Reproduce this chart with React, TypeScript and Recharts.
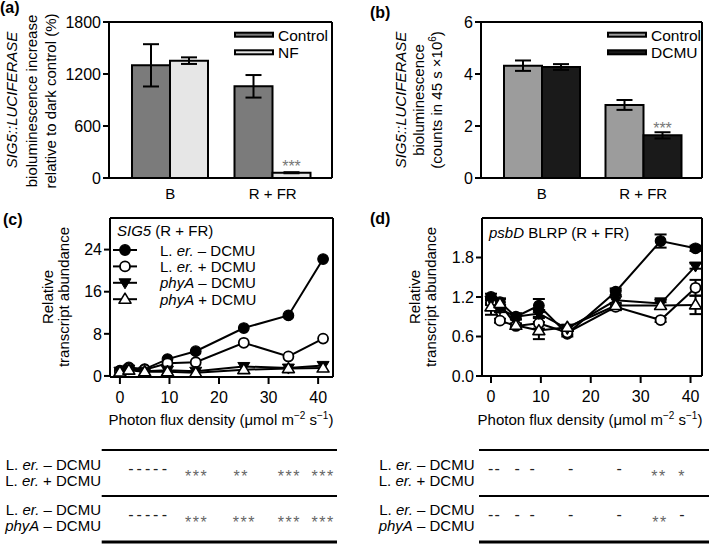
import React from 'react';
import {
  BarChart, Bar, XAxis, YAxis, ErrorBar, LabelList, Legend,
  LineChart, Line, ScatterChart, Scatter, ReferenceLine,
} from 'recharts';

const FONT = '"Liberation Sans", Arial, Helvetica, sans-serif';

// ---------- Panel (a) ----------
const catsA = ['B', 'R + FR'];
const controlA = [1300, 1058];
const controlAErr = [244, 130];
const nfA = [1354, 61];
const nfAErr = [38, 6];
const sigA = ['', '***'];
const seriesA = ['Control', 'NF'];
const colorsA = ['#7b7b7b', '#e6e6e6'];

// ---------- Panel (b) ----------
const catsB = ['B', 'R + FR'];
const controlB = [4.32, 2.81];
const controlBErr = [0.2, 0.19];
const dcmuB = [4.27, 1.64];
const dcmuBErr = [0.11, 0.12];
const sigB = ['', '***'];
const seriesB = ['Control', 'DCMU'];
const colorsB = ['#9c9c9c', '#1a1a1a'];

// ---------- Panels (c), (d) ----------
const pfd = [0, 1.8, 5, 9.6, 15.3, 25, 34, 41];
const lineNames = ['L. er. – DCMU', 'L. er. + DCMU', 'phyA – DCMU', 'phyA + DCMU'];
const lineKeys = ['lerM', 'lerP', 'phyM', 'phyP'];
const lineMarkers = ['fc', 'oc', 'ft', 'ot'];

const lerMc = [1.0, 1.6, 1.3, 3.2, 4.7, 9.1, 11.5, 22.2];
const lerPc = [0.9, 1.4, 1.2, 2.4, 2.6, 6.3, 3.7, 7.1];
const phyMc = [0.9, 1.3, 0.9, 1.1, 0.9, 1.8, 1.5, 2.0];
const phyPc = [0.75, 1.1, 0.8, 0.8, 0.6, 1.2, 1.4, 1.5];

const lerMd = [1.2, 1.12, 0.9, 1.07, 0.64, 1.28, 2.05, 1.94];
const lerMdErr = [0.05, 0.05, 0.04, 0.1, 0.04, 0.05, 0.1, 0.04];
const lerPd = [1.12, 0.84, 0.76, 0.8, 0.66, 1.05, 0.85, 1.34];
const lerPdErr = [0.04, 0.03, 0.03, 0.08, 0.03, 0.04, 0.03, 0.12];
const phyMd = [1.15, 1.02, 0.9, 0.95, 0.72, 1.15, 1.1, 1.67];
const phyMdErr = [0.04, 0.05, 0.04, 0.05, 0.03, 0.15, 0.08, 0.04];
const phyPd = [1.05, 1.1, 0.77, 0.69, 0.74, 1.07, 1.07, 1.08];
const phyPdErr = [0.12, 0.08, 0.03, 0.13, 0.04, 0.04, 0.05, 0.14];

// significance tables
const tableRowLabels = [['L. er. – DCMU', 'L. er. + DCMU'], ['L. er. – DCMU', 'phyA – DCMU']];
const sigPosC1 = [2.2, 3.9, 5.6, 7.2, 9.0, 15.5, 24.5, 34.2, 41];
const sigTxtC1 = ['-', '-', '-', '-', '-', '***', '**', '***', '***'];
const sigPosC2 = [2.2, 3.9, 5.6, 7.2, 9.0, 15.5, 25.1, 34.2, 41];
const sigTxtC2 = ['-', '-', '-', '-', '-', '***', '***', '***', '***'];
const sigPosD1 = [0, 1.3, 5.3, 8.3, 16, 25.7, 33.7, 38.3];
const sigTxtD1 = ['-', '-', '-', '-', '-', '-', '**', '*'];
const sigPosD2 = [0, 1.3, 5.3, 8.3, 16, 25.7, 33.9, 38.3];
const sigTxtD2 = ['-', '-', '-', '-', '-', '-', '**', '-'];

// ---------- built tables ----------
const dataA = catsA.map((c, i) => ({ cat: c, control: controlA[i], controlErr: controlAErr[i], nf: nfA[i], nfErr: nfAErr[i], sig: sigA[i] }));
const dataB = catsB.map((c, i) => ({ cat: c, control: controlB[i], controlErr: controlBErr[i], dcmu: dcmuB[i], dcmuErr: dcmuBErr[i], sig: sigB[i] }));
const dataC = pfd.map((x, i) => ({ x, lerM: lerMc[i], lerP: lerPc[i], phyM: phyMc[i], phyP: phyPc[i] }));
const dataD = pfd.map((x, i) => ({
  x, lerM: lerMd[i], lerMErr: lerMdErr[i], lerP: lerPd[i], lerPErr: lerPdErr[i],
  phyM: phyMd[i], phyMErr: phyMdErr[i], phyP: phyPd[i], phyPErr: phyPdErr[i],
}));
const mkSig = (pos: number[], txt: string[], row: number) => pos.map((x, i) => ({ x, row, label: txt[i] }));
const sigDataC = [...mkSig(sigPosC1, sigTxtC1, 1), ...mkSig(sigPosC2, sigTxtC2, 2)];
const sigDataD = [...mkSig(sigPosD1, sigTxtD1, 1), ...mkSig(sigPosD2, sigTxtD2, 2)];

const numTick = { fill: '#000', fontSize: 16, fontFamily: FONT };
const catTick = { fill: '#000', fontSize: 15, fontFamily: FONT };
const axisLn = { stroke: '#000', strokeWidth: 2 };
const tickLn = { stroke: '#000', strokeWidth: 2 };

function Rich({ text }: { text: string }) {
  const italics = ['er.', 'phyA', 'SIG5::LUCIFERASE', 'SIG5', 'psbD'];
  const parts: React.ReactNode[] = [];
  let rest = text;
  let k = 0;
  while (rest.length) {
    let best = -1;
    let tok = '';
    for (const t of italics) {
      const i = rest.indexOf(t);
      if (i >= 0 && (best < 0 || i < best || (i === best && t.length > tok.length))) { best = i; tok = t; }
    }
    if (best < 0) { parts.push(<tspan key={k++}>{rest}</tspan>); break; }
    if (best > 0) parts.push(<tspan key={k++}>{rest.slice(0, best)}</tspan>);
    parts.push(<tspan key={k++} fontStyle="italic">{tok}</tspan>);
    rest = rest.slice(best + tok.length);
  }
  return <>{parts}</>;
}

function Marker({ kind, cx, cy }: { kind: string; cx?: number; cy?: number }) {
  if (cx == null || cy == null || isNaN(cx) || isNaN(cy)) return null;
  const r = 5.3;
  if (kind === 'fc') return <circle cx={cx} cy={cy} r={r} fill="#000" stroke="#000" strokeWidth={1.2} />;
  if (kind === 'oc') return <circle cx={cx} cy={cy} r={r - 0.3} fill="#fff" stroke="#000" strokeWidth={1.8} />;
  const s = 6;
  if (kind === 'ft') {
    return <polygon points={`${cx - s},${cy - 4} ${cx + s},${cy - 4} ${cx},${cy + 6}`} fill="#000" stroke="#000" strokeWidth={1} strokeLinejoin="round" />;
  }
  return <polygon points={`${cx - s},${cy + 4} ${cx + s},${cy + 4} ${cx},${cy - 6}`} fill="#fff" stroke="#000" strokeWidth={1.6} strokeLinejoin="round" />;
}

function BarLegend({ names, colors }: { names: string[]; colors: string[] }) {
  return (
    <svg width={104} height={44} style={{ display: 'block', overflow: 'visible' }} fontFamily={FONT}>
      {names.map((n, i) => (
        <g key={n}>
          <rect x={5} y={8.7 + i * 17.6} width={38} height={4} fill={colors[i]} stroke="#000" strokeWidth={2} />
          <text x={48} y={17 + i * 17.2} fontSize={15.5} fill="#000" textAnchor="start">{n}</text>
        </g>
      ))}
    </svg>
  );
}

function LineLegendC() {
  return (
    <svg width={180} height={92} style={{ display: 'block', overflow: 'visible' }} fontFamily={FONT}>
      <text x={12} y={16} fontSize={15} fill="#000"><Rich text="SIG5 (R + FR)" /></text>
      {lineNames.map((n, i) => {
        const cy = 30 + i * 16.4;
        return (
          <g key={n}>
            <line x1={8} x2={32} y1={cy} y2={cy} stroke="#000" strokeWidth={2} />
            <Marker kind={lineMarkers[i]} cx={20} cy={cy} />
            <text x={55} y={cy + 5.5} fontSize={15} fill="#000"><Rich text={n} /></text>
          </g>
        );
      })}
    </svg>
  );
}

const SigShape = (props: any) => {
  const { cx, cy, payload } = props;
  if (cx == null || cy == null) return <g />;
  const star = payload.label.indexOf('*') >= 0;
  return (
    <text x={cx} y={cy + (star ? 8.5 : 1)} textAnchor="middle" fontSize={16} fontFamily={FONT}
      fill={star ? '#666' : '#222'} letterSpacing={star ? 1.5 : 0}>{payload.label}</text>
  );
};

function BarPanel({ data, colors, names, keys, domain, ticks, yWidth, rightM, legendLeft }: any) {
  return (
    <BarChart width={354} height={210} data={data} margin={{ top: 21, right: rightM - 1, bottom: 0, left: 0 }} barGap={0} barSize={38}>
      <XAxis dataKey="cat" height={32} padding={{ left: 10, right: 8 }} tickLine={false} tickSize={0} tickMargin={10} tick={catTick} axisLine={axisLn} />
      <XAxis xAxisId="top" orientation="top" dataKey="cat" height={1} tick={false} tickLine={false} axisLine={axisLn} />
      <YAxis width={yWidth} domain={domain} ticks={ticks} tickSize={6} tickMargin={2} tick={numTick} axisLine={axisLn} tickLine={tickLn} />
      <YAxis yAxisId="right" orientation="right" width={1} domain={[0, 1]} tick={false} tickLine={false} axisLine={axisLn} />
      <Bar dataKey={keys[0]} name={names[0]} fill={colors[0]} stroke="#000" strokeWidth={2} isAnimationActive={false}>
        <ErrorBar dataKey={keys[0] + 'Err'} width={8} stroke="#000" strokeWidth={2} />
      </Bar>
      <Bar dataKey={keys[1]} name={names[1]} fill={colors[1]} stroke="#000" strokeWidth={2} isAnimationActive={false}>
        <ErrorBar dataKey={keys[1] + 'Err'} width={8} stroke="#000" strokeWidth={2} />
        <LabelList dataKey="sig" position="top" offset={1} fill="#777" fontSize={16} />
      </Bar>
      <Legend layout="horizontal" verticalAlign="middle" align="center"
        wrapperStyle={{ left: legendLeft, top: 24, width: 104, height: 44 }}
        content={() => <BarLegend names={names} colors={colors} />} />
    </BarChart>
  );
}

function LinePanelC() {
  const dotFor = (kind: string) => (p: any) => <Marker key={`${kind}${p.index}`} kind={kind} cx={p.cx} cy={p.cy} />;
  return (
    <LineChart width={354} height={240} data={dataC} margin={{ top: 17, right: 20, bottom: 0, left: 0 }}>
      <XAxis type="number" dataKey="x" domain={[-2, 43]} ticks={[0, 10, 20, 30, 40]} height={63} tickSize={7} tickMargin={8} tick={numTick} axisLine={axisLn} tickLine={tickLn} />
      <XAxis xAxisId="top" orientation="top" type="number" dataKey="x" domain={[-2, 43]} height={1} tick={false} tickLine={false} axisLine={axisLn} />
      <YAxis domain={[-0.2, 30]} ticks={[0, 8, 16, 24]} width={110} tickSize={6} tickMargin={2} tick={numTick} axisLine={axisLn} tickLine={tickLn} />
      <YAxis yAxisId="right" orientation="right" width={1} domain={[0, 1]} tick={false} tickLine={false} axisLine={axisLn} />
      {lineKeys.map((k, i) => (
        <Line key={k} dataKey={k} name={lineNames[i]} stroke="#000" strokeWidth={2} dot={dotFor(lineMarkers[i])} activeDot={false} isAnimationActive={false} />
      ))}
      <Legend layout="horizontal" verticalAlign="middle" align="center"
        wrapperStyle={{ left: 105, top: 20, width: 180, height: 92 }}
        content={() => <LineLegendC />} />
    </LineChart>
  );
}

function LinePanelD() {
  const dotFor = (kind: string) => (p: any) => <Marker key={`${kind}${p.index}`} kind={kind} cx={p.cx} cy={p.cy} />;
  return (
    <LineChart width={355} height={240} data={dataD} margin={{ top: 17, right: 6, bottom: 0, left: 0 }}>
      <XAxis type="number" dataKey="x" domain={[-1.8, 42.3]} ticks={[0, 10, 20, 30, 40]} height={64} tickSize={7} tickMargin={8} tick={numTick} axisLine={axisLn} tickLine={tickLn} />
      <XAxis xAxisId="top" orientation="top" type="number" dataKey="x" domain={[-1.8, 42.3]} height={1} tick={false} tickLine={false} axisLine={axisLn} />
      <YAxis domain={[0, 2.4]} ticks={[0, 0.6, 1.2, 1.8]} tickFormatter={(v: number) => v.toFixed(1)} width={128} tickSize={6} tickMargin={2} tick={numTick} axisLine={axisLn} tickLine={tickLn} />
      <YAxis yAxisId="right" orientation="right" width={1} domain={[0, 1]} tick={false} tickLine={false} axisLine={axisLn} />
      {lineKeys.map((k, i) => (
        <Line key={k} dataKey={k} name={lineNames[i]} stroke="#000" strokeWidth={2} dot={dotFor(lineMarkers[i])} activeDot={false} isAnimationActive={false}>
          <ErrorBar dataKey={k + 'Err'} width={6} stroke="#000" strokeWidth={2} direction="y" />
        </Line>
      ))}
    </LineChart>
  );
}

function SigTable({ data, width, left, right, domain }: any) {
  return (
    <ScatterChart width={width} height={138} margin={{ top: 0, right, bottom: 0, left }}>
      <XAxis type="number" dataKey="x" domain={domain} hide />
      <YAxis type="number" dataKey="row" domain={[0, 3]} reversed hide />
      <ReferenceLine y={0.5} stroke="#000" strokeWidth={2} />
      <ReferenceLine y={1.5} stroke="#000" strokeWidth={2} />
      <ReferenceLine y={2.5} stroke="#000" strokeWidth={3} />
      <Scatter data={data} shape={SigShape} isAnimationActive={false} />
    </ScatterChart>
  );
}

function TableLabels({ xr }: { xr: number }) {
  const ys = [[470, 486], [515, 531]];
  return (
    <>
      {tableRowLabels.map((rows, r) => rows.map((t, j) => (
        <text key={`${r}${j}`} x={xr} y={ys[r][j]} textAnchor="end" fontSize={15} fill="#000"><Rich text={t} /></text>
      )))}
    </>
  );
}

export default function App() {
  return (
    <div style={{ position: 'absolute', left: 0, top: 0, width: 709, height: 544, overflow: 'hidden', background: '#fff', fontFamily: FONT }}>
      <div style={{ position: 'absolute', left: 0, top: 0 }}>
        <BarPanel data={dataA} colors={colorsA} names={seriesA} keys={['control', 'nf']} domain={[0, 1800]} ticks={[0, 600, 1200, 1800]} yWidth={109} rightM={22} legendLeft={230} />
      </div>
      <div style={{ position: 'absolute', left: 354, top: 0 }}>
        <BarPanel data={dataB} colors={colorsB} names={seriesB} keys={['control', 'dcmu']} domain={[0, 6]} ticks={[0, 2, 4, 6]} yWidth={127} rightM={6} legendLeft={249} />
      </div>
      <div style={{ position: 'absolute', left: 0, top: 200 }}>
        <LinePanelC />
      </div>
      <div style={{ position: 'absolute', left: 354, top: 200 }}>
        <LinePanelD />
      </div>
      <div style={{ position: 'absolute', left: 0, top: 427 }}>
        <SigTable data={sigDataC} width={354} left={101.7} right={17} domain={[-3.675, 43.81]} />
      </div>
      <div style={{ position: 'absolute', left: 354, top: 427 }}>
        <SigTable data={sigDataD} width={355} left={125} right={0} domain={[-2.34, 43.7]} />
      </div>
      <svg width={709} height={544} style={{ position: 'absolute', left: 0, top: 0, pointerEvents: 'none' }} fontFamily={FONT}>
        <text x={0} y={13} fontWeight="bold" fontSize={16}>(a)</text>
        <text x={370} y={18} fontWeight="bold" fontSize={16}>(b)</text>
        <text x={3} y={225} fontWeight="bold" fontSize={16}>(c)</text>
        <text x={370} y={224} fontWeight="bold" fontSize={16}>(d)</text>

        <g fontSize={15} textAnchor="middle" fill="#000">
          <text transform="translate(17,100) rotate(-90)"><Rich text="SIG5::LUCIFERASE" /></text>
          <text transform="translate(37,101) rotate(-90)">bioluminescence increase</text>
          <text transform="translate(56,101) rotate(-90)">relative to dark control (%)</text>

          <text transform="translate(406,100) rotate(-90)"><Rich text="SIG5::LUCIFERASE" /></text>
          <text transform="translate(424,100) rotate(-90)">bioluminescence</text>
          <text transform="translate(442,100) rotate(-90)">(counts in 45 s ×10<tspan dy={-6} fontSize={10}>6</tspan><tspan dy={6}>)</tspan></text>

          <text transform="translate(53,297) rotate(-90)">Relative</text>
          <text transform="translate(69,297) rotate(-90)">transcript abundance</text>
          <text transform="translate(420,297) rotate(-90)">Relative</text>
          <text transform="translate(436,297) rotate(-90)">transcript abundance</text>

          <text x={221} y={425}>Photon flux density (μmol m<tspan dy={-6} fontSize={10}>−2</tspan><tspan dy={6}> s</tspan><tspan dy={-6} fontSize={10}>−1</tspan><tspan dy={6}>)</tspan></text>
          <text x={590} y={425}>Photon flux density (μmol m<tspan dy={-6} fontSize={10}>−2</tspan><tspan dy={6}> s</tspan><tspan dy={-6} fontSize={10}>−1</tspan><tspan dy={6}>)</tspan></text>
        </g>
        <text x={489} y={238} fontSize={15} fill="#000"><Rich text="psbD BLRP (R + FR)" /></text>
        <TableLabels xr={101} />
        <TableLabels xr={474.5} />
      </svg>
    </div>
  );
}
